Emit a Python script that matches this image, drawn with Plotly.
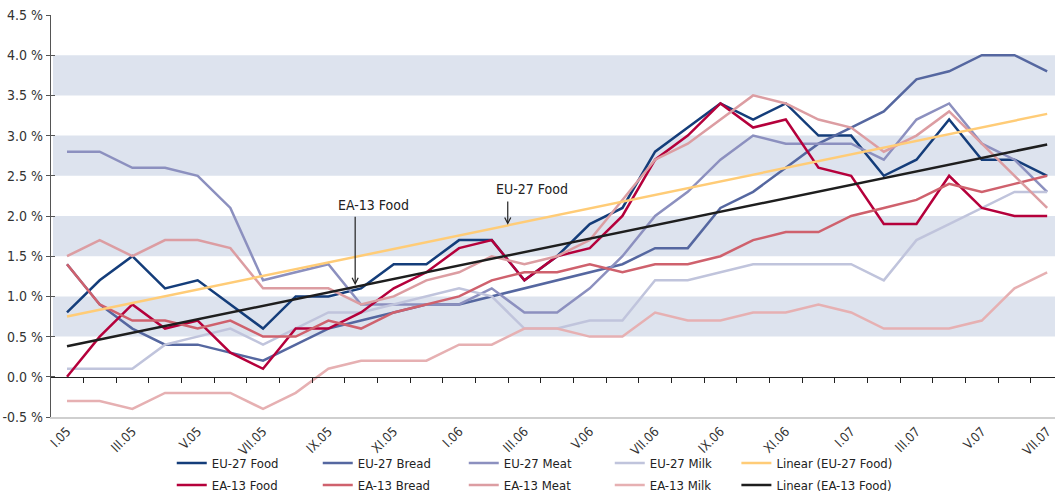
import plotly.graph_objects as go

months = ["I.05", "II.05", "III.05", "IV.05", "V.05", "VI.05", "VII.05", "VIII.05", "IX.05", "X.05", "XI.05", "XII.05",
          "I.06", "II.06", "III.06", "IV.06", "V.06", "VI.06", "VII.06", "VIII.06", "IX.06", "X.06", "XI.06", "XII.06",
          "I.07", "II.07", "III.07", "IV.07", "V.07", "VI.07", "VII.07"]

eu27_food  = [0.8, 1.2, 1.5, 1.1, 1.2, 0.9, 0.6, 1.0, 1.0, 1.1, 1.4, 1.4, 1.7, 1.7, 1.2, 1.5, 1.9, 2.1, 2.8, 3.1, 3.4, 3.2, 3.4, 3.0, 3.0, 2.5, 2.7, 3.2, 2.7, 2.7, 2.5]
eu27_bread = [1.4, 0.9, 0.6, 0.4, 0.4, 0.3, 0.2, 0.4, 0.6, 0.7, 0.8, 0.9, 0.9, 1.0, 1.1, 1.2, 1.3, 1.4, 1.6, 1.6, 2.1, 2.3, 2.6, 2.9, 3.1, 3.3, 3.7, 3.8, 4.0, 4.0, 3.8]
eu27_meat  = [2.8, 2.8, 2.6, 2.6, 2.5, 2.1, 1.2, 1.3, 1.4, 0.9, 0.9, 0.9, 0.9, 1.1, 0.8, 0.8, 1.1, 1.5, 2.0, 2.3, 2.7, 3.0, 2.9, 2.9, 2.9, 2.7, 3.2, 3.4, 2.9, 2.7, 2.3]
eu27_milk  = [0.1, 0.1, 0.1, 0.4, 0.5, 0.6, 0.4, 0.6, 0.8, 0.8, 0.9, 1.0, 1.1, 1.0, 0.6, 0.6, 0.7, 0.7, 1.2, 1.2, 1.3, 1.4, 1.4, 1.4, 1.4, 1.2, 1.7, 1.9, 2.1, 2.3, 2.3]
ea13_food  = [0.0, 0.5, 0.9, 0.6, 0.7, 0.3, 0.1, 0.6, 0.6, 0.8, 1.1, 1.3, 1.6, 1.7, 1.2, 1.5, 1.6, 2.0, 2.7, 3.0, 3.4, 3.1, 3.2, 2.6, 2.5, 1.9, 1.9, 2.5, 2.1, 2.0, 2.0]
ea13_bread = [1.4, 0.9, 0.7, 0.7, 0.6, 0.7, 0.5, 0.5, 0.7, 0.6, 0.8, 0.9, 1.0, 1.2, 1.3, 1.3, 1.4, 1.3, 1.4, 1.4, 1.5, 1.7, 1.8, 1.8, 2.0, 2.1, 2.2, 2.4, 2.3, 2.4, 2.5]
ea13_meat  = [1.5, 1.7, 1.5, 1.7, 1.7, 1.6, 1.1, 1.1, 1.1, 0.9, 1.0, 1.2, 1.3, 1.5, 1.4, 1.5, 1.7, 2.2, 2.7, 2.9, 3.2, 3.5, 3.4, 3.2, 3.1, 2.8, 3.0, 3.3, 2.9, 2.5, 2.1]
ea13_milk  = [-0.3, -0.3, -0.4, -0.2, -0.2, -0.2, -0.4, -0.2, 0.1, 0.2, 0.2, 0.2, 0.4, 0.4, 0.6, 0.6, 0.5, 0.5, 0.8, 0.7, 0.7, 0.8, 0.8, 0.9, 0.8, 0.6, 0.6, 0.6, 0.7, 1.1, 1.3]

# linear trend lines (start / end values)
trend_eu27 = [0.75, 3.27]
trend_ea13 = [0.38, 2.89]

y_ticks = [-0.5, 0.0, 0.5, 1.0, 1.5, 2.0, 2.5, 3.0, 3.5, 4.0, 4.5]
y_ticktext = [f"{v:.1f} %" for v in y_ticks]

FONT = "Liberation Sans Narrow, DejaVu Sans Condensed, Arial Narrow, Roboto, sans-serif"
x = list(range(len(months)))
x_trend = [x[0], x[-1]]

fig = go.Figure()

series = [
    ("EU-27 Food", eu27_food, "#143d7a", "legend"),
    ("EU-27 Bread", eu27_bread, "#5567a0", "legend"),
    ("EU-27 Meat", eu27_meat, "#8c90bf", "legend"),
    ("EU-27 Milk", eu27_milk, "#c0c4dc", "legend"),
]
ea_series = [
    ("EA-13 Food", ea13_food, "#b5003b", "legend2"),
    ("EA-13 Bread", ea13_bread, "#cf616d", "legend2"),
    ("EA-13 Meat", ea13_meat, "#dc9da2", "legend2"),
    ("EA-13 Milk", ea13_milk, "#e6b0b2", "legend2"),
]

for name, vals, col, lg in series + ea_series:
    fig.add_trace(go.Scatter(x=x, y=vals, mode="lines", name=name, legend=lg,
                             line=dict(color=col, width=2.5)))

fig.add_trace(go.Scatter(x=x_trend, y=trend_eu27, mode="lines", name="Linear (EU-27 Food)", legend="legend3",
                         line=dict(color="#ffcc77", width=2.5)))
fig.add_trace(go.Scatter(x=x_trend, y=trend_ea13, mode="lines", name="Linear (EA-13 Food)", legend="legend4",
                         line=dict(color="#1e1e1e", width=2.5)))

# dummy traces so the overlay axes render
fig.add_trace(go.Scatter(x=[None], y=[None], xaxis="x2", yaxis="y", showlegend=False, hoverinfo="skip"))
fig.add_trace(go.Scatter(x=[None], y=[None], xaxis="x", yaxis="y2", showlegend=False, hoverinfo="skip"))

# shaded bands
shapes = []
for lo in [0.5, 1.5, 2.5, 3.5]:
    shapes.append(dict(type="rect", xref="paper", yref="y", x0=0.002, x1=1, y0=lo, y1=lo + 0.5,
                       fillcolor="#dde3ee", line=dict(width=0), layer="below"))

xr = [-0.49, 30.24]
leg_common = dict(orientation="h", xref="container", yref="container", xanchor="left", yanchor="middle",
                  entrywidth=101, entrywidthmode="pixels", bgcolor="rgba(0,0,0,0)",
                  font=dict(size=13, color="#222222"), traceorder="normal")
leg_single = dict(orientation="h", xref="container", yref="container", xanchor="left", yanchor="middle",
                  bgcolor="rgba(0,0,0,0)", font=dict(size=13, color="#222222"))
row1_y = 1 - 463 / 497
row2_y = 1 - 485 / 497
fig.update_layout(
    width=1055, height=497,
    margin=dict(l=51, r=0, t=15, b=80, autoexpand=False),
    plot_bgcolor="white", paper_bgcolor="white",
    font=dict(family=FONT, size=14, color="#333333"),
    shapes=shapes,
    xaxis=dict(range=xr, tickmode="array", tickvals=x[::2], ticktext=months[::2], tickangle=-45,
               showline=True, linecolor="#cfcfcf", linewidth=1.5, ticks="", showgrid=False, zeroline=False,
               automargin=False, tickfont=dict(size=13, color="#333333")),
    xaxis2=dict(range=xr, overlaying="x", anchor="free", position=0.1, tickmode="array",
                tickvals=[i + 0.5 for i in range(30)], ticks="outside", ticklen=5, tickcolor="#222222",
                showline=True, linecolor="#222222", linewidth=1.2, showticklabels=False,
                showgrid=False, zeroline=False),
    yaxis=dict(range=[-0.5, 4.5], tickmode="array", tickvals=y_ticks, ticktext=y_ticktext,
               showline=True, linecolor="#555555", linewidth=1.2, ticks="outside", ticklen=4,
               tickcolor="#555555", showgrid=False, zeroline=False, automargin=False,
               tickfont=dict(size=14, color="#333333")),
    yaxis2=dict(range=[-0.5, 4.5], overlaying="y", anchor="x", side="left", tickmode="array",
                tickvals=y_ticks, ticks="inside", ticklen=4, tickcolor="#555555",
                showticklabels=False, showline=False, showgrid=False, zeroline=False),
    legend=dict(x=0.1628, y=row1_y, **leg_common),
    legend2=dict(x=0.1628, y=row2_y, **leg_common),
    legend3=dict(x=0.698, y=row1_y, **leg_single),
    legend4=dict(x=0.698, y=row2_y, **leg_single),
    annotations=[
        dict(x=9.37, y=2.14, xref="x", yref="y", text="EA-13 Food", showarrow=False,
             font=dict(size=14, color="#222222")),
        dict(x=8.82, y=1.14, ax=8.82, ay=2.01, xref="x", yref="y", axref="x", ayref="y", text="",
             showarrow=True, arrowhead=5, arrowsize=1, arrowwidth=1.2, arrowcolor="#222222"),
        dict(x=14.23, y=2.33, xref="x", yref="y", text="EU-27 Food", showarrow=False,
             font=dict(size=14, color="#222222")),
        dict(x=13.49, y=1.89, ax=13.49, ay=2.20, xref="x", yref="y", axref="x", ayref="y", text="",
             showarrow=True, arrowhead=5, arrowsize=1, arrowwidth=1.2, arrowcolor="#222222"),
    ],
)

fig.write_html("out.html")
